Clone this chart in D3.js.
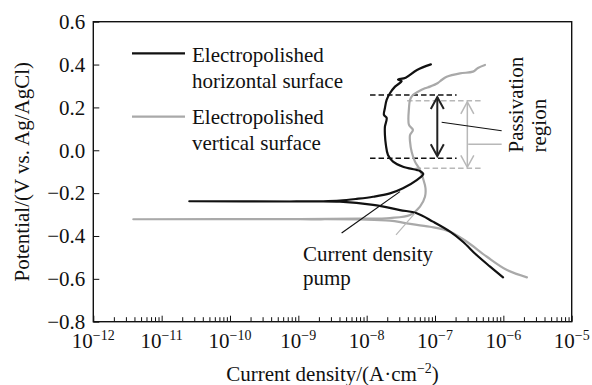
<!DOCTYPE html>
<html>
<head>
<meta charset="utf-8">
<script src="https://cdn.jsdelivr.net/npm/d3@7/dist/d3.min.js"></script>
<style>
  html, body { margin: 0; padding: 0; background: #fff; }
  svg { display: block; }
  text { font-family: "Liberation Serif", "Times New Roman", serif; fill: #111; }
</style>
</head>
<body>
<svg id="chart" width="592" height="385"></svg>
<script>
// Potentiodynamic polarization scans: cathodic end -> corrosion potential -> anodic end
const horizontalCurrent = [9.9e-7, 6.4e-7, 4.06e-7, 2.56e-7, 1.66e-7, 9.3e-8, 5.4e-8, 3.07e-8, 1.24e-8, 4.06e-9, 1.06e-9,
  2.54e-11,
  7.55e-10, 2.3e-9, 4.06e-9, 7.15e-9, 1.24e-8, 2.19e-8, 3.4e-8, 5.4e-8, 6.73e-8, 6.03e-8, 5.4e-8, 3.4e-8, 2.43e-8,
  2.05e-8, 1.91e-8, 1.85e-8, 1.85e-8, 1.96e-8, 1.79e-8, 1.85e-8, 1.96e-8, 2.19e-8, 2.6e-8, 3.25e-8, 2.87e-8,
  3.72e-8, 5.45e-8, 8.7e-8];
const horizontalPotential = [-0.593, -0.543, -0.489, -0.427, -0.380, -0.333, -0.294, -0.279, -0.255, -0.240, -0.239,
  -0.238,
  -0.239, -0.238, -0.235, -0.227, -0.217, -0.201, -0.177, -0.139, -0.111, -0.097, -0.092, -0.077, -0.053,
  -0.022, 0.025, 0.071, 0.110, 0.151, 0.165, 0.197, 0.235, 0.266, 0.297, 0.323, 0.330,
  0.339, 0.375, 0.401];

const verticalCurrent = [2.21e-6, 1.13e-6, 5.75e-7, 2.93e-7, 1.66e-7, 8.43e-8, 3.85e-8, 2.19e-8, 7.98e-9, 1.06e-9,
  3.85e-12,
  1.06e-9, 7.98e-9, 2.19e-8, 4.31e-8, 6.03e-8, 7.13e-8, 7.25e-8, 6.67e-8, 6.03e-8, 5.09e-8, 4.55e-8, 4.31e-8,
  4.31e-8, 4.75e-8, 4.16e-8, 4.16e-8, 4.31e-8, 4.75e-8, 5.64e-8, 7.13e-8, 8.43e-8, 1.1e-7, 1.25e-7, 1.48e-7,
  2.32e-7, 3.59e-7, 4.25e-7, 5.38e-7];
const verticalPotential = [-0.593, -0.559, -0.497, -0.427, -0.380, -0.357, -0.341, -0.328, -0.323, -0.322,
  -0.322,
  -0.321, -0.319, -0.316, -0.302, -0.263, -0.217, -0.176, -0.131, -0.092, -0.053, -0.007, 0.040,
  0.071, 0.095, 0.118, 0.197, 0.235, 0.258, 0.273, 0.289, 0.297, 0.314, 0.328, 0.343,
  0.359, 0.367, 0.384, 0.398];

// Passivation windows (potential bounds), their dashed-line current extents and arrow positions
const passiveBoundsHorizontal = [-0.037, 0.258];
const passiveBoundsVertical = [-0.084, 0.231];
const passiveSpanHorizontal = [1.12e-8, 2.07e-7];
const passiveSpanVertical = [3.9e-8, 5.0e-7];
const arrowCurrentHorizontal = 1.08e-7;
const arrowCurrentVertical = 2.97e-7;

// Axis ticks
const decadeTicks = [1e-12, 1e-11, 1e-10, 1e-9, 1e-8, 1e-7, 1e-6, 1e-5];
const decadeExponents = ["−12", "−11", "−10", "−9", "−8", "−7", "−6", "−5"];
const potentialTicks = [-0.8, -0.6, -0.4, -0.2, 0.0, 0.2, 0.4, 0.6];

const seriesNames = [["Electropolished", "horizontal surface"], ["Electropolished", "vertical surface"]];

// ---- layout ----
const margin = { left: 93.3, top: 21.7 };
const W = 478.4, H = 300;
const BLACK = "#111", GRAY = "#a9a9a9", LIGHT = "#b8b8b8";

const svg = d3.select("#chart");
const g = svg.append("g").attr("transform", `translate(${margin.left},${margin.top})`);

const x = d3.scaleLog().domain([1e-12, 1e-5]).range([0, W]);
const y = d3.scaleLinear().domain([-0.8, 0.6]).range([H, 0]);

// minor log ticks (2..9 within each decade)
const minorTicks = [];
decadeTicks.slice(0, -1).forEach(d => { for (let k = 2; k <= 9; k++) minorTicks.push(d * k); });

const xMinor = g.append("g").attr("transform", `translate(0,${H})`)
  .call(d3.axisBottom(x).tickValues(minorTicks).tickSize(-4.5).tickSizeOuter(0).tickFormat(""));
const xMajor = g.append("g").attr("transform", `translate(0,${H})`)
  .call(d3.axisBottom(x).tickValues(decadeTicks).tickSize(-6).tickSizeOuter(0).tickFormat(""));
[xMinor, xMajor].forEach(a => {
  a.select(".domain").remove();
  a.selectAll(".tick line").attr("stroke", BLACK).attr("stroke-width", 1);
});

// decade labels 10^n
const xLab = g.append("g").selectAll("text").data(decadeTicks).join("text")
  .attr("x", d => x(d)).attr("y", H + 26.5)
  .attr("text-anchor", "middle").style("font-size", "21px");
xLab.append("tspan").text("10");
xLab.append("tspan").attr("dy", -8).style("font-size", "14px").text((d, i) => decadeExponents[i]);

const yAxis = g.append("g")
  .call(d3.axisLeft(y).tickValues(potentialTicks).tickSize(-6).tickSizeOuter(0).tickPadding(8)
    .tickFormat(d3.format(".1f")));
yAxis.select(".domain").remove();
yAxis.selectAll(".tick line").attr("stroke", BLACK).attr("stroke-width", 1);
yAxis.selectAll(".tick text").style("font-size", "21px").style("font-family", "Liberation Serif").attr("fill", "#111");

// frame
g.append("rect").attr("x", 0).attr("y", 0).attr("width", W).attr("height", H)
  .attr("fill", "none").attr("stroke", BLACK).attr("stroke-width", 1.4);

// axis titles
const xt = svg.append("text").attr("x", margin.left + W / 2).attr("y", 381)
  .attr("text-anchor", "middle").style("font-size", "21px");
xt.append("tspan").text("Current density/(A·cm");
xt.append("tspan").attr("dy", -8).style("font-size", "14px").text("−2");
xt.append("tspan").attr("dy", 8).text(")");

svg.append("text").attr("transform", `translate(28.5,${margin.top + H / 2}) rotate(-90)`)
  .attr("text-anchor", "middle").style("font-size", "21px")
  .text("Potential/(V vs. Ag/AgCl)");

// ---- passivation annotations ----
const ann = g.append("g");
function dashed(span, v, color, width) {
  ann.append("line")
    .attr("x1", x(span[0])).attr("x2", x(span[1]))
    .attr("y1", y(v)).attr("y2", y(v))
    .attr("stroke", color).attr("stroke-width", width).attr("stroke-dasharray", "5.5,3");
}
dashed(passiveSpanVertical, passiveBoundsVertical[0], LIGHT, 1.3);
dashed(passiveSpanVertical, passiveBoundsVertical[1], LIGHT, 1.3);
dashed(passiveSpanHorizontal, passiveBoundsHorizontal[0], BLACK, 1.5);
dashed(passiveSpanHorizontal, passiveBoundsHorizontal[1], BLACK, 1.5);

function doubleArrow(cur, bounds, inset, color, width) {
  const ax = x(cur), yTop = y(bounds[1]) + inset, yBot = y(bounds[0]) - inset;
  const hw = 6.5, hl = 12;
  ann.append("line").attr("x1", ax).attr("x2", ax).attr("y1", yTop).attr("y2", yBot)
    .attr("stroke", color).attr("stroke-width", width);
  const head = d3.line();
  ann.append("path").attr("d", head([[ax - hw, yTop + hl], [ax, yTop], [ax + hw, yTop + hl]]))
    .attr("fill", "none").attr("stroke", color).attr("stroke-width", width);
  ann.append("path").attr("d", head([[ax - hw, yBot - hl], [ax, yBot], [ax + hw, yBot - hl]]))
    .attr("fill", "none").attr("stroke", color).attr("stroke-width", width);
}
doubleArrow(arrowCurrentVertical, passiveBoundsVertical, 1, LIGHT, 1.5);
doubleArrow(arrowCurrentHorizontal, passiveBoundsHorizontal, 2, "#222", 2);

// leaders to the "Passivation region" label
ann.append("line").attr("x1", x(1.25e-7)).attr("y1", y(0.131)).attr("x2", x(9.44e-7)).attr("y2", y(0.091))
  .attr("stroke", BLACK).attr("stroke-width", 1.1);
ann.append("line").attr("x1", x(3.06e-7)).attr("y1", y(0.028)).attr("x2", x(9.44e-7)).attr("y2", y(0.028))
  .attr("stroke", LIGHT).attr("stroke-width", 1.3);

// ---- curves ----
const line = d3.line()
  .x(d => x(d[0])).y(d => y(d[1]))
  .curve(d3.curveCatmullRom.alpha(0.5));

const verticalPts = d3.zip(verticalCurrent, verticalPotential);
const horizontalPts = d3.zip(horizontalCurrent, horizontalPotential);

g.append("path").datum(verticalPts).attr("d", line)
  .attr("fill", "none").attr("stroke", GRAY).attr("stroke-width", 2.2)
  .attr("stroke-linejoin", "round").attr("stroke-linecap", "round");
g.append("path").datum(horizontalPts).attr("d", line)
  .attr("fill", "none").attr("stroke", BLACK).attr("stroke-width", 2.2)
  .attr("stroke-linejoin", "round").attr("stroke-linecap", "round");

// leaders to the "Current density pump" label
g.append("line").attr("x1", x(4.3e-9)).attr("y1", y(-0.386)).attr("x2", x(3.07e-8)).attr("y2", y(-0.193))
  .attr("stroke", BLACK).attr("stroke-width", 1.2);
g.append("line").attr("x1", x(2.69e-8)).attr("y1", y(-0.395)).attr("x2", x(5.09e-8)).attr("y2", y(-0.293))
  .attr("stroke", LIGHT).attr("stroke-width", 1.2);

// ---- text labels ----
svg.append("text").attr("x", 303).attr("y", 261).style("font-size", "21px").text("Current density");
svg.append("text").attr("x", 303).attr("y", 285).style("font-size", "21px").text("pump");

svg.append("text").attr("transform", "translate(523.3,152.5) rotate(-90)").style("font-size", "21px").text("Passivation");
svg.append("text").attr("transform", "translate(545.5,152.5) rotate(-90)").style("font-size", "21px").text("region");

// ---- legend ----
const legend = svg.append("g");
const legendColors = [BLACK, GRAY];
const legendLineY = [53.3, 116.7];
const legendBase = [62, 124];
seriesNames.forEach((lines, i) => {
  legend.append("line").attr("x1", 132).attr("x2", 185)
    .attr("y1", legendLineY[i]).attr("y2", legendLineY[i])
    .attr("stroke", legendColors[i]).attr("stroke-width", 2.2);
  lines.forEach((t, j) => {
    legend.append("text").attr("x", 192).attr("y", legendBase[i] + j * 26)
      .style("font-size", "21px").text(t);
  });
});
</script>
</body>
</html>
